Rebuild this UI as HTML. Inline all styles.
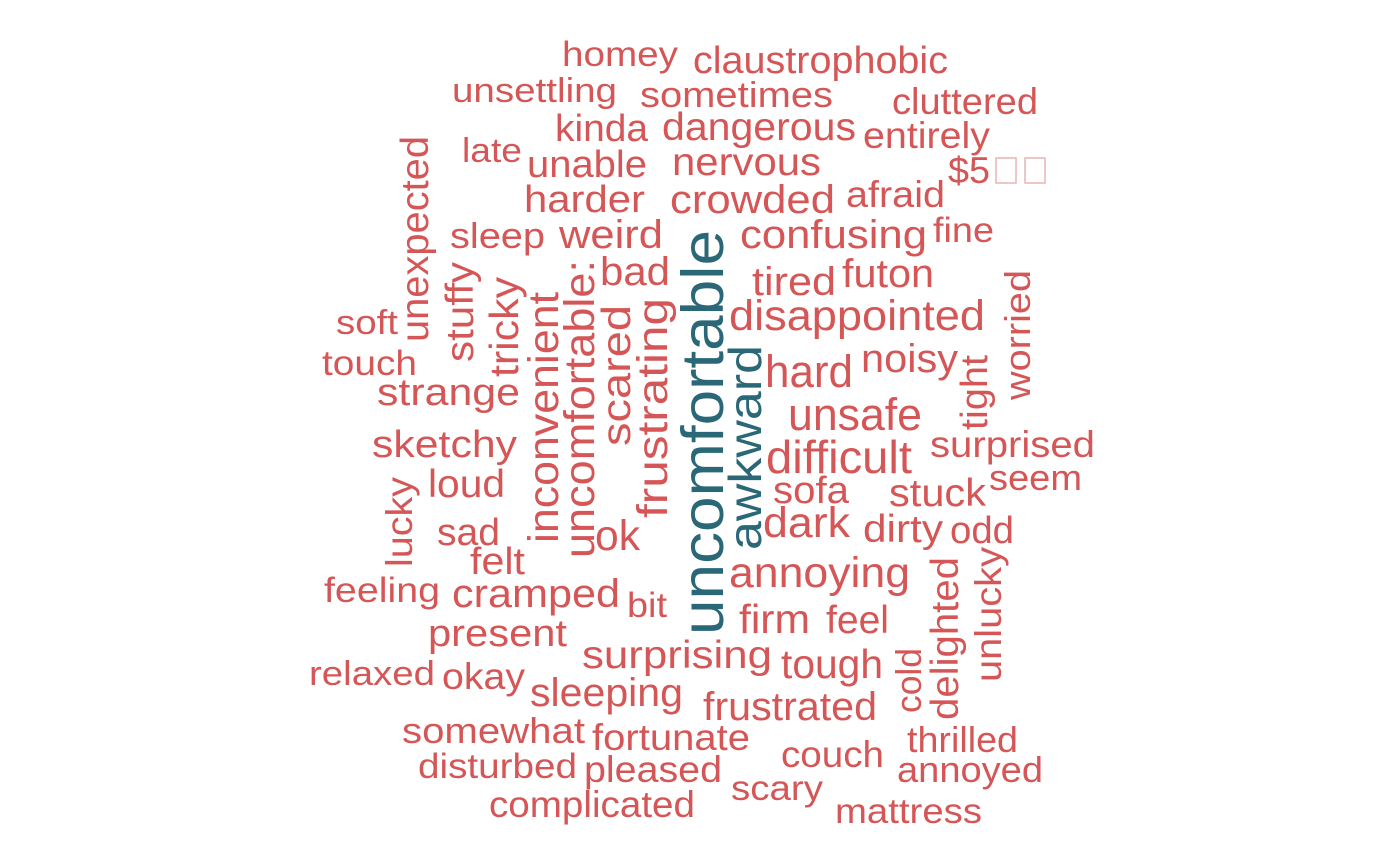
<!DOCTYPE html>
<html><head><meta charset="utf-8"><style>
html,body{margin:0;padding:0;background:#fff;}
svg{display:block;}
text{font-family:"Liberation Sans",Arial,sans-serif;fill:#D55656;}
.t{fill:#2A6878;}
</style></head><body>
<svg width="1400" height="865" viewBox="0 0 1400 865">
<g>
<text x="562" y="66" font-size="35" textLength="116" lengthAdjust="spacingAndGlyphs">homey</text>
<text x="693" y="73" font-size="38" textLength="255" lengthAdjust="spacingAndGlyphs">claustrophobic</text>
<text x="452" y="102" font-size="34" textLength="165" lengthAdjust="spacingAndGlyphs">unsettling</text>
<text x="640" y="107" font-size="36" textLength="193" lengthAdjust="spacingAndGlyphs">sometimes</text>
<text x="892" y="114" font-size="37" textLength="146" lengthAdjust="spacingAndGlyphs">cluttered</text>
<text x="555" y="141" font-size="38" textLength="93" lengthAdjust="spacingAndGlyphs">kinda</text>
<text x="662" y="140" font-size="39" textLength="194" lengthAdjust="spacingAndGlyphs">dangerous</text>
<text x="863" y="148" font-size="37" textLength="127" lengthAdjust="spacingAndGlyphs">entirely</text>
<text x="462" y="162" font-size="34" textLength="60" lengthAdjust="spacingAndGlyphs">late</text>
<text x="527" y="177" font-size="38" textLength="120" lengthAdjust="spacingAndGlyphs">unable</text>
<text x="672" y="175" font-size="39" textLength="149" lengthAdjust="spacingAndGlyphs">nervous</text>
<g>
<text x="948" y="183" font-size="37" textLength="42" lengthAdjust="spacingAndGlyphs">$5</text>
<rect x="996" y="158" width="20" height="25" fill="none" stroke="#E8B4B4" stroke-width="1.5"/>
<rect x="1025" y="158" width="20" height="25" fill="none" stroke="#E8B4B4" stroke-width="1.5"/>
</g>
<text x="524" y="212" font-size="38" textLength="121" lengthAdjust="spacingAndGlyphs">harder</text>
<text x="670" y="213" font-size="40" textLength="165" lengthAdjust="spacingAndGlyphs">crowded</text>
<text x="846" y="207" font-size="37" textLength="99" lengthAdjust="spacingAndGlyphs">afraid</text>
<text x="450" y="248" font-size="36" textLength="95" lengthAdjust="spacingAndGlyphs">sleep</text>
<text x="559" y="248" font-size="40" textLength="104" lengthAdjust="spacingAndGlyphs">weird</text>
<text x="740" y="248" font-size="40" textLength="187" lengthAdjust="spacingAndGlyphs">confusing</text>
<text x="933" y="242" font-size="35" textLength="61" lengthAdjust="spacingAndGlyphs">fine</text>
<text x="600" y="285" font-size="40" textLength="70" lengthAdjust="spacingAndGlyphs">bad</text>
<text x="752" y="295" font-size="40" textLength="84" lengthAdjust="spacingAndGlyphs">tired</text>
<text x="842" y="287" font-size="40" textLength="92" lengthAdjust="spacingAndGlyphs">futon</text>
<text x="729" y="330" font-size="43" textLength="256" lengthAdjust="spacingAndGlyphs">disappointed</text>
<text x="336" y="334" font-size="34" textLength="62" lengthAdjust="spacingAndGlyphs">soft</text>
<text x="322" y="375" font-size="35" textLength="95" lengthAdjust="spacingAndGlyphs">touch</text>
<text x="765" y="387" font-size="45" textLength="88" lengthAdjust="spacingAndGlyphs">hard</text>
<text x="861" y="372" font-size="40" textLength="97" lengthAdjust="spacingAndGlyphs">noisy</text>
<text x="377" y="405" font-size="38" textLength="143" lengthAdjust="spacingAndGlyphs">strange</text>
<text x="788" y="430" font-size="45" textLength="134" lengthAdjust="spacingAndGlyphs">unsafe</text>
<text x="372" y="457" font-size="38" textLength="145" lengthAdjust="spacingAndGlyphs">sketchy</text>
<text x="930" y="457" font-size="37" textLength="165" lengthAdjust="spacingAndGlyphs">surprised</text>
<text x="766" y="473" font-size="46" textLength="146" lengthAdjust="spacingAndGlyphs">difficult</text>
<text x="989" y="490" font-size="36" textLength="93" lengthAdjust="spacingAndGlyphs">seem</text>
<text x="428" y="497" font-size="39" textLength="77" lengthAdjust="spacingAndGlyphs">loud</text>
<text x="773" y="503" font-size="38" textLength="76" lengthAdjust="spacingAndGlyphs">sofa</text>
<text x="889" y="506" font-size="39" textLength="97" lengthAdjust="spacingAndGlyphs">stuck</text>
<text x="763" y="537" font-size="43" textLength="87" lengthAdjust="spacingAndGlyphs">dark</text>
<text x="863" y="542" font-size="39" textLength="80" lengthAdjust="spacingAndGlyphs">dirty</text>
<text x="950" y="543" font-size="38" textLength="64" lengthAdjust="spacingAndGlyphs">odd</text>
<text x="437" y="545" font-size="38" textLength="63" lengthAdjust="spacingAndGlyphs">sad</text>
<text x="595" y="550" font-size="43" textLength="45" lengthAdjust="spacingAndGlyphs">ok</text>
<text x="470" y="574" font-size="38" textLength="55" lengthAdjust="spacingAndGlyphs">felt</text>
<text x="729" y="587" font-size="43" textLength="181" lengthAdjust="spacingAndGlyphs">annoying</text>
<text x="324" y="602" font-size="35" textLength="116" lengthAdjust="spacingAndGlyphs">feeling</text>
<text x="452" y="607" font-size="40" textLength="168" lengthAdjust="spacingAndGlyphs">cramped</text>
<text x="627" y="617" font-size="35" textLength="40" lengthAdjust="spacingAndGlyphs">bit</text>
<text x="739" y="633" font-size="41" textLength="71" lengthAdjust="spacingAndGlyphs">firm</text>
<text x="826" y="633" font-size="39" textLength="63" lengthAdjust="spacingAndGlyphs">feel</text>
<text x="428" y="646" font-size="38" textLength="139" lengthAdjust="spacingAndGlyphs">present</text>
<text x="582" y="668" font-size="39" textLength="190" lengthAdjust="spacingAndGlyphs">surprising</text>
<text x="781" y="678" font-size="41" textLength="102" lengthAdjust="spacingAndGlyphs">tough</text>
<text x="309" y="685" font-size="34" textLength="126" lengthAdjust="spacingAndGlyphs">relaxed</text>
<text x="442" y="689" font-size="37" textLength="83" lengthAdjust="spacingAndGlyphs">okay</text>
<text x="530" y="706" font-size="40" textLength="153" lengthAdjust="spacingAndGlyphs">sleeping</text>
<text x="703" y="720" font-size="40" textLength="174" lengthAdjust="spacingAndGlyphs">frustrated</text>
<text x="402" y="743" font-size="36" textLength="183" lengthAdjust="spacingAndGlyphs">somewhat</text>
<text x="592" y="750" font-size="37" textLength="158" lengthAdjust="spacingAndGlyphs">fortunate</text>
<text x="907" y="752" font-size="36" textLength="111" lengthAdjust="spacingAndGlyphs">thrilled</text>
<text x="781" y="767" font-size="37" textLength="103" lengthAdjust="spacingAndGlyphs">couch</text>
<text x="418" y="778" font-size="35" textLength="159" lengthAdjust="spacingAndGlyphs">disturbed</text>
<text x="584" y="782" font-size="37" textLength="138" lengthAdjust="spacingAndGlyphs">pleased</text>
<text x="897" y="782" font-size="36" textLength="146" lengthAdjust="spacingAndGlyphs">annoyed</text>
<text x="731" y="800" font-size="35" textLength="92" lengthAdjust="spacingAndGlyphs">scary</text>
<text x="489" y="817" font-size="37" textLength="206" lengthAdjust="spacingAndGlyphs">complicated</text>
<text x="835" y="823" font-size="35" textLength="147" lengthAdjust="spacingAndGlyphs">mattress</text>
</g>
<g>
<text transform="translate(428,342) rotate(-90)" font-size="39" textLength="206" lengthAdjust="spacingAndGlyphs">unexpected</text>
<text transform="translate(473,362) rotate(-90)" font-size="39" textLength="100" lengthAdjust="spacingAndGlyphs">stuffy</text>
<text transform="translate(518,377) rotate(-90)" font-size="41" textLength="100" lengthAdjust="spacingAndGlyphs">tricky</text>
<text transform="translate(558,543) rotate(-90)" font-size="43" textLength="251" lengthAdjust="spacingAndGlyphs">inconvenient</text>
<text transform="translate(594,558) rotate(-90)" font-size="43" textLength="298" lengthAdjust="spacingAndGlyphs">uncomfortable:</text>
<text transform="translate(630,446) rotate(-90)" font-size="41" textLength="141" lengthAdjust="spacingAndGlyphs">scared</text>
<text transform="translate(667,518) rotate(-90)" font-size="43" textLength="220" lengthAdjust="spacingAndGlyphs">frustrating</text>
<text class="t" transform="translate(723,635) rotate(-90)" font-size="59" textLength="405" lengthAdjust="spacingAndGlyphs">uncomfortable</text>
<text class="t" transform="translate(761,550) rotate(-90)" font-size="46" textLength="205" lengthAdjust="spacingAndGlyphs">awkward</text>
<text transform="translate(987,430) rotate(-90)" font-size="38" textLength="75" lengthAdjust="spacingAndGlyphs">tight</text>
<text transform="translate(1030,400) rotate(-90)" font-size="36" textLength="130" lengthAdjust="spacingAndGlyphs">worried</text>
<text transform="translate(412,567) rotate(-90)" font-size="37" textLength="90" lengthAdjust="spacingAndGlyphs">lucky</text>
<text transform="translate(921,713) rotate(-90)" font-size="36" textLength="65" lengthAdjust="spacingAndGlyphs">cold</text>
<text transform="translate(958,720) rotate(-90)" font-size="39" textLength="163" lengthAdjust="spacingAndGlyphs">delighted</text>
<text transform="translate(1001,682) rotate(-90)" font-size="37" textLength="135" lengthAdjust="spacingAndGlyphs">unlucky</text>
</g>
</svg>
</body></html>
